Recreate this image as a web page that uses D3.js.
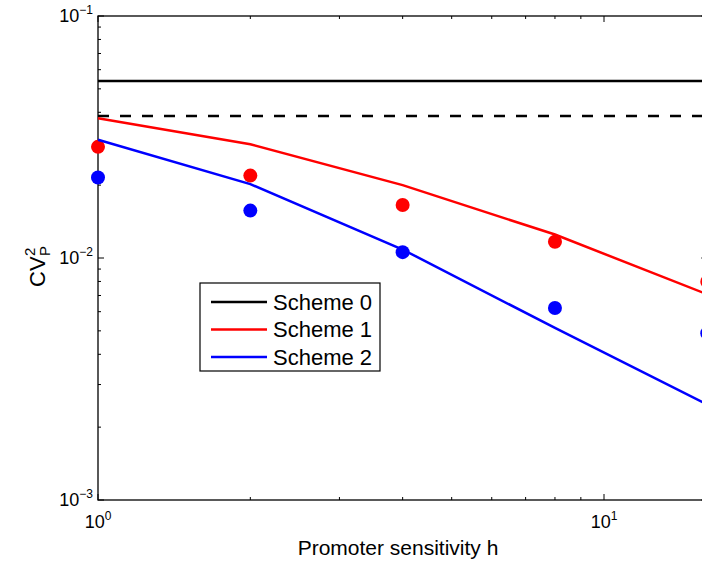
<!DOCTYPE html>
<html>
<head>
<meta charset="utf-8">
<script src="https://cdn.jsdelivr.net/npm/d3@7"></script>
<style>
    body { margin: 0; background: #fff; }
    svg { display: block; font-family: "Liberation Sans", Arial, sans-serif; }
</style>
</head>
<body>
<div id="chart"></div>
<script>
// values
const h = [1, 2, 4, 8, 16];
const scheme0 = 0.0539;          // solid black, constant
const scheme0Approx = 0.0386;    // dashed black, constant
const scheme1Line = [0.0378, 0.0295, 0.0200, 0.0125, 0.00708];
const scheme2Line = [0.0308, 0.0202, 0.01084, 0.00514, 0.00248];
const scheme1Dots = [0.0288, 0.0219, 0.01656, 0.01167, 0.00798];
const scheme2Dots = [0.0215, 0.0157, 0.01057, 0.00621, 0.00489];

const xMajor = [1, 10];
const xMinor = [2, 3, 4, 5, 6, 7, 8, 9];
const yMajor = [1e-3, 1e-2, 1e-1];
const yMinor = [2, 3, 4, 5, 6, 7, 8, 9].flatMap(k => [k * 1e-3, k * 1e-2]);
const xTickLabels = ["0", "1"];
const yTickLabels = ["\u22123", "\u22122", "\u22121"];

const legendItems = [
    {label: "Scheme 0", color: "#000"},
    {label: "Scheme 1", color: "#f00"},
    {label: "Scheme 2", color: "#00f"}
];

const width = 702, height = 565;
const plotLeft = 98, plotTop = 16, plotBottom = 500;

const x = d3.scaleLog().domain([1, 16]).range([plotLeft, plotLeft + 506 * Math.log10(16)]);
const y = d3.scaleLog().domain([1e-3, 1e-1]).range([plotBottom, plotTop]);
const plotRight = x(16);

const svg = d3.select("#chart").append("svg")
    .attr("width", width)
    .attr("height", height);

svg.append("rect").attr("width", width).attr("height", height).attr("fill", "#fff");

// ticks on all four sides, pointing inward
const ticks = svg.append("g").attr("stroke", "#000").attr("stroke-width", 1);
function xTick(v, len) {
    ticks.append("line").attr("x1", x(v)).attr("x2", x(v)).attr("y1", plotBottom).attr("y2", plotBottom - len);
    ticks.append("line").attr("x1", x(v)).attr("x2", x(v)).attr("y1", plotTop).attr("y2", plotTop + len);
}
function yTick(v, len) {
    ticks.append("line").attr("x1", plotLeft).attr("x2", plotLeft + len).attr("y1", y(v)).attr("y2", y(v));
    ticks.append("line").attr("x1", plotRight).attr("x2", plotRight - len).attr("y1", y(v)).attr("y2", y(v));
}
xMinor.forEach(v => xTick(v, 3));
xMajor.forEach(v => xTick(v, 6));
yMinor.forEach(v => yTick(v, 3));
yMajor.forEach(v => yTick(v, 6));

// box
svg.append("rect")
    .attr("x", plotLeft).attr("y", plotTop)
    .attr("width", plotRight - plotLeft).attr("height", plotBottom - plotTop)
    .attr("fill", "none").attr("stroke", "#000").attr("stroke-width", 1.3);

// tick labels
xMajor.forEach((v, i) => {
    const t = svg.append("text")
        .attr("x", x(v)).attr("y", 528)
        .attr("text-anchor", "middle")
        .attr("font-size", 18);
    t.append("tspan").text("10");
    t.append("tspan").attr("dy", -8).attr("font-size", 12).text(xTickLabels[i]);
});
yMajor.forEach((v, i) => {
    const t = svg.append("text")
        .attr("x", 93).attr("y", y(v) + 6)
        .attr("text-anchor", "end")
        .attr("font-size", 18);
    t.append("tspan").text("10");
    t.append("tspan").attr("dy", -8).attr("font-size", 12).text(yTickLabels[i]);
});

// axis titles
svg.append("text")
    .attr("x", 398).attr("y", 555)
    .attr("text-anchor", "middle")
    .attr("font-size", 21)
    .text("Promoter sensitivity h");

const yl = svg.append("g").attr("transform", "translate(45,0) rotate(-90)");
yl.append("text").attr("x", -287).attr("y", 0).attr("font-size", 22).text("CV");
yl.append("text").attr("x", -256).attr("y", -10).attr("font-size", 15).text("2");
yl.append("text").attr("x", -256).attr("y", 5).attr("font-size", 15).text("P");

const line = d3.line().x(d => x(d[0])).y(d => y(d[1]));

svg.append("line")
    .attr("x1", x(1)).attr("x2", x(16))
    .attr("y1", y(scheme0)).attr("y2", y(scheme0))
    .attr("stroke", "#000").attr("stroke-width", 2.5);

svg.append("line")
    .attr("x1", x(1)).attr("x2", x(16))
    .attr("y1", y(scheme0Approx)).attr("y2", y(scheme0Approx))
    .attr("stroke", "#000").attr("stroke-width", 2.5)
    .attr("stroke-dasharray", "11,11");

[[scheme1Dots, "#f00"], [scheme2Dots, "#00f"]].forEach(([vals, color]) => {
    svg.append("g").selectAll("circle")
        .data(h.map((v, i) => [v, vals[i]]))
        .join("circle")
        .attr("cx", d => x(d[0]))
        .attr("cy", d => y(d[1]))
        .attr("r", 7)
        .attr("fill", color);
});

[[scheme1Line, "#f00"], [scheme2Line, "#00f"]].forEach(([vals, color]) => {
    svg.append("path")
        .datum(h.map((v, i) => [v, vals[i]]))
        .attr("d", line)
        .attr("fill", "none")
        .attr("stroke", color)
        .attr("stroke-width", 2.5);
});

// legend
const legend = svg.append("g").attr("transform", "translate(200,283)");
legend.append("rect")
    .attr("width", 180).attr("height", 88)
    .attr("fill", "#fff").attr("stroke", "#000").attr("stroke-width", 1.2);
legendItems.forEach((d, i) => {
    const cy = 19 + i * 27.5;
    legend.append("line")
        .attr("x1", 11).attr("x2", 67)
        .attr("y1", cy).attr("y2", cy)
        .attr("stroke", d.color).attr("stroke-width", 2.5);
    legend.append("text")
        .attr("x", 73).attr("y", cy + 7.5)
        .attr("font-size", 22)
        .text(d.label);
});
</script>
</body>
</html>
